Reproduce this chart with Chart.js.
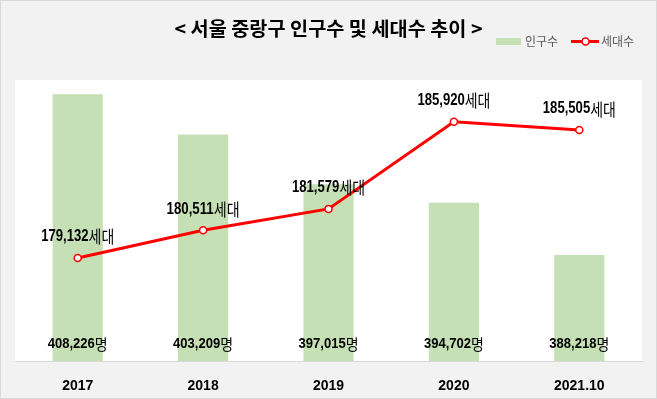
<!DOCTYPE html>
<html><head><meta charset="utf-8">
<script src="https://cdn.jsdelivr.net/npm/chart.js@4"></script>
<style>html,body{margin:0;padding:0;background:#f2f2f2;}#wrap{position:relative;width:657px;height:399px;}canvas{display:block;}</style>
</head><body><div id="wrap"><canvas id="c" width="657" height="399"></canvas></div>
<script>
const categories = ['2017', '2018', '2019', '2020', '2021.10'];
const population = [408226, 403209, 397015, 394702, 388218];
const households = [179132, 180511, 181579, 185920, 185505];
const popRange = [375000, 410000];
const hhRange = [174000, 188000];
const titleText = '< 서울 중랑구 인구수 및 세대수 추이 >';
const popName = '인구수';
const hhName = '세대수';
const popUnit = '명';
const hhUnit = '세대';

const KR = '"Noto Sans CJK KR"';
const LAT = '"Liberation Sans"';

function drawFitted(ctx, parts, cx, cy, width, color) {
  ctx.save();
  let natural = 0;
  const ws = parts.map(p => { ctx.font = p.font; const w = ctx.measureText(p.text).width; natural += w; return w; });
  const s = width ? width / natural : 1;
  ctx.translate(cx - natural * s / 2, cy);
  ctx.scale(s, 1);
  ctx.textBaseline = 'middle';
  ctx.textAlign = 'left';
  ctx.fillStyle = color;
  let x = 0;
  parts.forEach((p, i) => { ctx.font = p.font; ctx.fillText(p.text, x, 0); x += ws[i]; });
  ctx.restore();
}

const decor = {
  id: 'decor',
  beforeDraw(chart) {
    const ctx = chart.ctx, a = chart.chartArea;
    ctx.save();
    ctx.fillStyle = '#f2f2f2';
    ctx.fillRect(0, 0, chart.width, chart.height);
    ctx.strokeStyle = '#d9d9d9';
    ctx.lineWidth = 1;
    ctx.strokeRect(0.5, 0.5, chart.width - 1, chart.height - 1);
    ctx.fillStyle = '#ffffff';
    ctx.fillRect(a.left, a.top, a.right - a.left, a.bottom - a.top);
    ctx.restore();
  },
  afterDatasetsDraw(chart) {
    const ctx = chart.ctx;
    const barMeta = chart.getDatasetMeta(0);
    barMeta.data.forEach((el, i) => {
      drawFitted(ctx, [
        { text: population[i].toLocaleString('en-US'), font: 'bold 14px ' + LAT },
        { text: popUnit, font: '15px ' + KR }
      ], el.x, 344, 60, '#000');
    });
    const lineMeta = chart.getDatasetMeta(1);
    lineMeta.data.forEach((el, i) => {
      drawFitted(ctx, [
        { text: households[i].toLocaleString('en-US'), font: 'bold 16px ' + LAT },
        { text: hhUnit, font: '17px ' + KR }
      ], el.x, el.y - 21, 73, '#000');
    });
    // title
    drawFitted(ctx, [{ text: titleText, font: 'bold 19px ' + KR }], 328.5, 28.5, 308, '#000');
    // legend
    ctx.save();
    ctx.fillStyle = '#c5e0b4';
    ctx.fillRect(496, 38, 25, 7);
    ctx.font = '12px ' + KR;
    ctx.fillStyle = '#595959';
    ctx.textBaseline = 'middle';
    ctx.textAlign = 'left';
    ctx.fillText(popName, 525, 41.5);
    ctx.strokeStyle = '#ff0000';
    ctx.lineWidth = 3;
    ctx.beginPath(); ctx.moveTo(571, 41.5); ctx.lineTo(599, 41.5); ctx.stroke();
    ctx.fillStyle = '#ffffff';
    ctx.lineWidth = 1.5;
    ctx.beginPath(); ctx.arc(585.5, 41.5, 3.5, 0, Math.PI * 2); ctx.fill(); ctx.stroke();
    ctx.fillStyle = '#595959';
    ctx.fillText(hhName, 601, 41.5);
    ctx.restore();
  }
};

new Chart(document.getElementById('c'), {
  data: {
    labels: categories,
    datasets: [
      { type: 'bar', label: popName, data: population, yAxisID: 'y', backgroundColor: '#c5e0b4',
        categoryPercentage: 1, barPercentage: 0.4, order: 2 },
      { type: 'line', label: hhName, data: households, yAxisID: 'y1', borderColor: '#ff0000', borderWidth: 3,
        pointRadius: 3.5, pointBackgroundColor: '#ffffff', pointBorderColor: '#ff0000', pointBorderWidth: 1.5,
        tension: 0, order: 1 }
    ]
  },
  options: {
    responsive: false,
    animation: false,
    layout: { padding: { left: 15, right: 15, top: 80, bottom: 0 } },
    plugins: { legend: { display: false }, title: { display: false }, tooltip: { enabled: false } },
    scales: {
      x: {
        grid: { display: false },
        border: { display: true, color: '#d9d9d9', width: 1 },
        ticks: { color: '#000', font: { family: 'Liberation Sans', size: 14, weight: 'bold' }, padding: 9 },
        afterFit(s) { s.height = 38; }
      },
      y: { display: false, min: popRange[0], max: popRange[1] },
      y1: { display: false, min: hhRange[0], max: hhRange[1], position: 'right' }
    }
  },
  plugins: [decor]
});
</script>
</body></html>
